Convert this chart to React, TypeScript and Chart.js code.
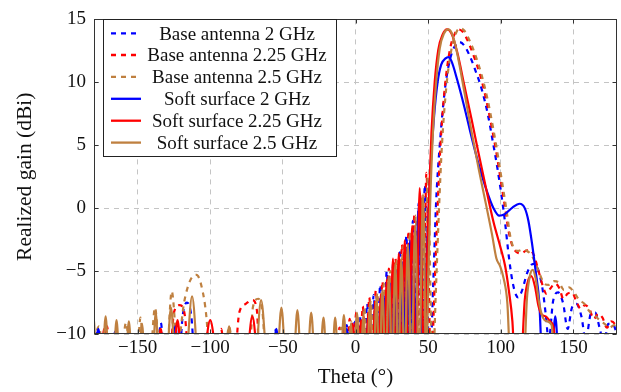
import React, { useEffect, useRef } from 'react';
import { Chart, registerables } from 'chart.js';

Chart.register(...registerables);

// ---- axis ticks / labels ----
const xTicks = [-150, -100, -50, 0, 50, 100, 150];
const yTicks = [-10, -5, 0, 5, 10, 15];
const seriesLabels = [
  'Base antenna 2 GHz',
  'Base antenna 2.25 GHz',
  'Base antenna 2.5 GHz',
  'Soft surface 2 GHz',
  'Soft surface 2.25 GHz',
  'Soft surface 2.5 GHz',
];

// ---- data: [theta (deg), realized gain (dBi)] ----
const base2GHz: [number, number][] = [
  [-180, -10.3], [-178, -9.7], [-176, -13],
  [-168, -13], [-165.5, -9.8], [-163, -13],
  [-137, -13], [-134, -9.1], [-131, -13],
  [-122, -13], [-119, -8.6], [-116, -7.5], [-113, -8.6], [-110, -13],
  [-58, -13], [-55, -9.7], [-52, -13],
  [-8.5, -13], [-6, -9.3], [-3.5, -13], [-1, -9.0], [1.3, -13], [3.5, -8.6], [5.8, -13], [8, -7.6], [10.3, -13],
  [12.5, -6.9], [14.8, -13], [17, -6.1], [19.3, -13], [21.5, -5.0], [23.8, -13], [26, -4.3], [28.3, -13],
  [30.5, -3.3], [32.8, -13], [35, -2.2], [37.3, -13], [39.5, -1.0], [41.5, -13], [43.5, 0.4], [45.6, -13],
  [47.7, 1.85], [51, -13],
  [53.5, -6], [55.5, 0.5], [58, 5], [61.5, 9.4], [65, 11.8], [68.5, 12.9], [71.5, 13.2], [75, 12.9], [79, 12.0],
  [83, 10.8], [87, 9.4], [91, 7.5], [94.5, 5.3], [97.5, 3.3], [100.5, 1.0], [103, -1.2], [105.5, -3.8], [108, -5.8],
  [110.5, -6.9], [112, -7.1], [114.5, -6.6], [118, -5.2], [121, -4.5], [123.7, -4.4], [126.5, -5.2], [129, -6.6],
  [131, -8.5], [133, -10.5], [136, -7.4], [139.5, -6.7], [143, -7.6], [146, -9.6], [149, -7.9], [152, -7.6],
  [155.5, -8.6], [158.5, -10.5], [162, -8.4], [165, -8.3], [168, -9.5], [171, -10.8], [174, -9.2], [177, -9.2], [180, -10.0],
];

const base225GHz: [number, number][] = [
  [-180, -9.8], [-177.5, -13], [-173.5, -13], [-171, -9.4], [-168.5, -13],
  [-158.5, -13], [-156, -9.6], [-153.5, -13],
  [-137, -13], [-134, -9.6], [-131, -13],
  [-128.5, -13], [-125, -8.3], [-121, -7.7], [-117.5, -8.5], [-114, -13],
  [-96, -13], [-92.5, -9.6], [-89, -13],
  [-84, -13], [-80, -8.3], [-75.5, -7.6], [-71, -7.3], [-68, -8.0], [-65.5, -13],
  [-14, -13], [-11, -9.5], [-8.5, -13], [-6.3, -13], [-4, -8.8], [-1.8, -13], [0.5, -8.3], [2.8, -13], [5, -7.8],
  [7.3, -13], [9.5, -7.1], [11.8, -13], [14, -6.5], [16.3, -13], [18.5, -5.8], [20.8, -13], [23, -4.8], [25.3, -13],
  [27.5, -4.0], [29.8, -13], [32, -2.9], [34.3, -13], [36.5, -1.8], [38.5, -13], [40.5, -0.5], [42.5, -13],
  [44.5, 1.0], [46.6, -13], [48.8, 2.8], [52, -13],
  [54.5, -6], [56.5, 0], [58.5, 5], [61.5, 9.6], [65, 12.6], [68.5, 13.9], [71, 14.2], [74, 14.0], [78, 13.1],
  [82, 11.9], [86, 10.5], [90, 8.6], [94, 6.3], [97, 4.4], [100, 2.2], [103, 0.0], [105.5, -1.9], [108, -3.0],
  [111, -3.5], [114, -3.6], [117, -3.4], [120, -3.3], [123, -3.8], [126, -5.0], [129, -6.2], [131.5, -6.8],
  [134, -6.4], [137.5, -6.0], [140.5, -6.4], [143, -7.2], [146, -6.8], [149, -6.7], [152, -7.4], [155, -8.0],
  [158, -7.7], [161, -8.0], [164, -8.8], [167, -8.4], [170, -8.7], [173, -9.5], [176, -9.0], [178.5, -9.2], [180, -9.6],
];

const base25GHz: [number, number][] = [
  [-180, -10.5], [-176.5, -9.4], [-173, -13],
  [-162, -13], [-158, -9.1], [-154, -13],
  [-151, -13], [-148, -8.7], [-145, -13],
  [-142, -13], [-138, -7.9], [-134, -13],
  [-130.5, -13], [-126.5, -6.6], [-122.5, -11], [-118, -7.5], [-114, -5.8], [-109.5, -5.3], [-106, -6.2],
  [-102.5, -8.8], [-100, -13],
  [-91, -13], [-87, -9.4], [-83, -13],
  [-74, -13], [-70.5, -7.8], [-67, -7.2], [-64, -8.3], [-61, -13],
  [-12.5, -13], [-10, -9.5], [-7.5, -13], [-5.3, -13], [-3, -9.0], [-0.8, -13], [1.5, -8.5], [3.8, -13], [6, -7.9],
  [8.3, -13], [10.5, -7.3], [12.8, -13], [15, -6.7], [17.3, -13], [19.5, -6.0], [21.8, -13], [24, -5.0], [26.3, -13],
  [28.5, -4.1], [30.8, -13], [33, -3.0], [35.3, -13], [37.5, -1.9], [39.5, -13], [41.5, -0.6], [43.5, -13],
  [45.5, 0.9], [47.6, -13], [49.8, 2.5], [53, -13],
  [55.5, -6], [57.5, 0], [59.5, 5], [62.5, 9.6], [66, 12.6], [69.5, 14.0], [72, 14.3], [75, 14.1], [79, 13.2],
  [83, 12.0], [87, 10.5], [91, 8.6], [95, 6.2], [98, 4.2], [101, 2.0], [104, -0.2], [106.5, -2.2], [109, -3.2],
  [112, -3.4], [115, -3.3], [118, -3.4], [121, -3.7], [124, -4.4], [127, -5.3], [130, -6.0], [133, -6.1],
  [136.5, -5.8], [140, -5.9], [143.5, -6.5], [147, -6.3], [150.5, -6.7], [154, -7.3], [157.5, -7.6], [161, -8.2],
  [164.5, -8.5], [168, -8.9], [171.5, -9.2], [175, -9.5], [178, -9.3], [180, -9.7],
];

const soft2GHz: [number, number][] = [
  [-180, -13], [-177, -9.6], [-174, -13],
  [-127, -13], [-124, -9.4], [-121, -13],
  [-57.5, -13], [-54.5, -9.6], [-51.5, -13],
  [-9, -13], [-6, -9.6], [-3, -13], [0.5, -13], [3, -9.4], [5.8, -13], [9, -8.9], [11.8, -13], [14.5, -7.9],
  [17, -13], [19.5, -7.0], [21.8, -13], [24, -6.0], [26, -13], [28, -5.0], [30, -13], [32.2, -4.3], [34.8, -13],
  [37.5, -2.6], [40.5, -13], [43.5, 0.2], [46.5, -13],
  [48.5, -6], [50, -1], [51.8, 3.5], [54, 7.2], [56.5, 10], [59, 11.4], [62, 11.9], [64, 12.0], [66, 11.7],
  [70, 10.2], [75, 8.0], [80, 5.6], [85, 3.4], [90, 1.5], [95, 0.0], [99, -0.6], [103, -0.45], [108, 0.05],
  [113, 0.35], [116.5, 0.0], [119, -1.0], [121.5, -2.8], [124, -5.0], [126.5, -7.5], [129, -13],
  [134.5, -13], [137.5, -8.6], [140.5, -13], [180, -13],
];

const soft225GHz: [number, number][] = [
  [-180, -13], [-176, -13], [-173, -9.6], [-170, -13],
  [-137, -13], [-134, -9.6], [-131, -13],
  [-126, -13], [-122.5, -8.9], [-119, -13],
  [-106, -13], [-100, -8.9], [-94, -13],
  [-76, -13], [-71, -8.6], [-66, -13],
  [-10.5, -13], [-8, -9.4], [-5, -13], [-2, -9.2], [1, -13], [4, -8.9], [6.5, -13], [9, -8.3], [11.3, -13],
  [13.5, -7.6], [15.5, -13], [17.5, -6.8], [19.5, -13], [21.5, -5.7], [23.6, -13], [25.8, -4.0], [27.8, -13],
  [29.8, -3.6], [31.8, -13], [33.9, -2.55], [36.4, -13], [39, -1.4], [41.6, -13], [44.2, 1.6], [47.3, -13],
  [48.8, -6], [50.3, 0], [52.3, 6], [54.5, 10], [57, 12.6], [60, 13.8], [63, 14.2], [66, 13.9], [70, 12.4],
  [75, 9.7], [80, 7.0], [85, 4.2], [90, 1.5], [95, -1.1], [100, -3.2], [103, -4.6], [105.5, -6.5], [108, -9.0],
  [110, -13],
  [113.5, -13], [116.5, -7.3], [119, -5.7], [121, -5.4], [123.5, -6.2], [126, -7.8], [128.5, -8.5], [131, -8.6],
  [134, -9.0], [136.5, -9.6], [138.5, -13], [180, -13],
];

const soft25GHz: [number, number][] = [
  [-180, -9.0], [-177.5, -13], [-174.5, -13], [-172, -8.6], [-169.5, -13], [-167, -13], [-164.5, -8.9], [-162, -13],
  [-158.5, -13], [-156, -9.0], [-153.5, -13], [-149.5, -13], [-147, -9.2], [-144.5, -13], [-140, -13], [-137.5, -8.3],
  [-135, -13], [-130.5, -13], [-127, -7.9], [-123.5, -13], [-117.5, -13], [-112.5, -7.0], [-107.5, -13],
  [-90, -13], [-87, -9.4], [-84, -13], [-69.5, -13], [-65, -7.3], [-60, -13], [-54.5, -13], [-51, -7.9], [-47.5, -13],
  [-43, -13], [-40, -8.1], [-37, -13], [-33.5, -13], [-30.5, -8.3], [-27.5, -13], [-25, -13], [-22, -8.7], [-19.5, -13],
  [-16.5, -13], [-14, -8.7], [-11.5, -13], [-10.5, -13], [-8, -8.5], [-5.5, -13], [-3, -9.2], [-1, -13], [1, -8.3],
  [3.2, -13], [5.5, -8.6], [7.7, -13], [10, -7.6], [12.2, -13], [14.5, -7.1], [16.5, -13], [18.5, -6.5], [20.7, -13],
  [23, -5.4], [25.2, -13], [27.4, -4.4], [29.5, -13], [31.5, -4.0], [33.8, -13], [36, -2.9], [38.5, -13], [41, -1.6],
  [43.8, -13], [46.5, 1.1], [48.7, -13],
  [50, -6], [51.3, 0], [53.3, 6], [55.5, 10], [58, 12.7], [61, 13.9], [64, 14.2], [67, 13.7], [70, 12.3], [75, 9.2],
  [80, 6.0], [85, 3.0], [90, 0.2], [94, -2.1], [97, -4.0], [99.5, -4.6], [102, -5.6], [104.5, -7.5], [107, -13],
  [115.5, -13], [118, -7.2], [120, -5.4], [122, -4.9], [124, -5.6], [126.5, -7.6], [129, -8.7], [132, -9.0],
  [135, -9.3], [137.5, -13], [180, -13],
];

const seriesData = [base2GHz, base225GHz, base25GHz, soft2GHz, soft225GHz, soft25GHz];
const seriesColors = ['#0000ff', '#ff0000', '#bf8040', '#0000ff', '#ff0000', '#bf8040'];
const seriesDashed = [true, true, true, false, false, false];

const FONT = '"Liberation Serif", "Times New Roman", serif';
const TEXT = '#111111';
const DASH = [5, 5];

const fmt = (v: number | string) => String(v).replace('-', '\u2212');

const framePlugin = {
  id: 'frameAndLegend',
  afterDraw(chart: any) {
    const { ctx, chartArea, scales } = chart;
    const { left, right, top, bottom } = chartArea;
    const xs = scales.x;
    const ys = scales.y;
    ctx.save();
    ctx.setLineDash([]);
    ctx.strokeStyle = '#333333';
    ctx.lineWidth = 1;
    const L = Math.round(left) + 0.5;
    const R = Math.round(right) - 0.5;
    const T = Math.round(top) + 0.5;
    const B = Math.round(bottom) - 0.5;
    ctx.strokeRect(L, T, R - L, B - T);
    // inward tick marks
    ctx.beginPath();
    xTicks.forEach((v) => {
      const px = Math.round(xs.getPixelForValue(v)) + 0.5;
      ctx.moveTo(px, B); ctx.lineTo(px, B - 4);
      ctx.moveTo(px, T); ctx.lineTo(px, T + 4);
    });
    yTicks.forEach((v) => {
      const py = Math.round(ys.getPixelForValue(v)) + 0.5;
      ctx.moveTo(L, py); ctx.lineTo(L + 4, py);
      ctx.moveTo(R, py); ctx.lineTo(R - 4, py);
    });
    ctx.stroke();

    // legend box
    const bx = 103.5, by = 19.5, bw = 233, bh = 137;
    ctx.fillStyle = '#ffffff';
    ctx.fillRect(bx, by, bw, bh);
    ctx.strokeStyle = '#222222';
    ctx.strokeRect(bx, by, bw, bh);
    const rows = [33.3, 55, 76.9, 98.8, 120.7, 142.6];
    ctx.font = `19px ${FONT}`;
    ctx.textAlign = 'center';
    ctx.textBaseline = 'alphabetic';
    seriesLabels.forEach((label, i) => {
      const ry = rows[i];
      ctx.strokeStyle = seriesColors[i];
      ctx.lineWidth = 2.3;
      ctx.setLineDash(seriesDashed[i] ? DASH : []);
      ctx.beginPath();
      ctx.moveTo(111, ry);
      ctx.lineTo(141, ry);
      ctx.stroke();
      ctx.setLineDash([]);
      ctx.fillStyle = TEXT;
      ctx.fillText(label, 237, ry + 6.4);
    });
    ctx.restore();
  },
};

export default function App() {
  const canvasRef = useRef<HTMLCanvasElement | null>(null);

  useEffect(() => {
    const canvas = canvasRef.current;
    if (!canvas) return;
    const datasets = seriesData.map((pts, i) => ({
      label: seriesLabels[i],
      data: pts.map(([x, y]) => ({ x, y })),
      borderColor: seriesColors[i],
      backgroundColor: seriesColors[i],
      borderWidth: 2.2,
      borderDash: seriesDashed[i] ? DASH : [],
      pointRadius: 0,
      fill: false,
      cubicInterpolationMode: 'monotone' as const,
      order: 5 - i,
      clip: 0,
    }));

    const chart = new Chart(canvas, {
      type: 'line',
      data: { datasets },
      plugins: [framePlugin],
      options: {
        responsive: false,
        animation: false,
        events: [],
        layout: { padding: { top: 13, right: 4, left: 0, bottom: 0 } },
        plugins: { legend: { display: false }, tooltip: { enabled: false } },
        scales: {
          x: {
            type: 'linear',
            min: -180,
            max: 180,
            afterBuildTicks: (s: any) => {
              s.ticks = xTicks.map((v) => ({ value: v }));
            },
            afterFit: (s: any) => {
              s.height = 58;
            },
            grid: { color: '#c4c4c4', lineWidth: 1, drawTicks: false, tickLength: 0 },
            border: { display: false, dash: DASH },
            ticks: {
              padding: 3,
              autoSkip: false,
              maxRotation: 0,
              color: TEXT,
              font: { family: FONT, size: 19 },
              callback: (v: any) => fmt(v),
            },
            title: {
              display: true,
              text: 'Theta (°)',
              color: TEXT,
              font: { family: FONT, size: 21 },
              padding: { top: 0, bottom: 2 },
            },
          },
          y: {
            type: 'linear',
            min: -10,
            max: 15,
            afterBuildTicks: (s: any) => {
              s.ticks = yTicks.map((v) => ({ value: v }));
            },
            afterFit: (s: any) => {
              s.width = 94;
            },
            grid: { color: '#c4c4c4', lineWidth: 1, drawTicks: false, tickLength: 0 },
            border: { display: false, dash: DASH },
            ticks: {
              padding: 8,
              color: TEXT,
              font: { family: FONT, size: 19 },
              callback: (v: any) => fmt(v),
            },
            title: {
              display: true,
              text: 'Realized gain (dBi)',
              color: TEXT,
              font: { family: FONT, size: 21.5 },
              padding: { top: 12, bottom: 0 },
            },
          },
        },
      },
    } as any);
    return () => chart.destroy();
  }, []);

  return (
    <div style={{ position: 'fixed', left: 0, top: 0, width: 621, height: 392, background: '#ffffff' }}>
      <canvas ref={canvasRef} width={621} height={392} style={{ display: 'block', width: 621, height: 392 }} />
    </div>
  );
}
